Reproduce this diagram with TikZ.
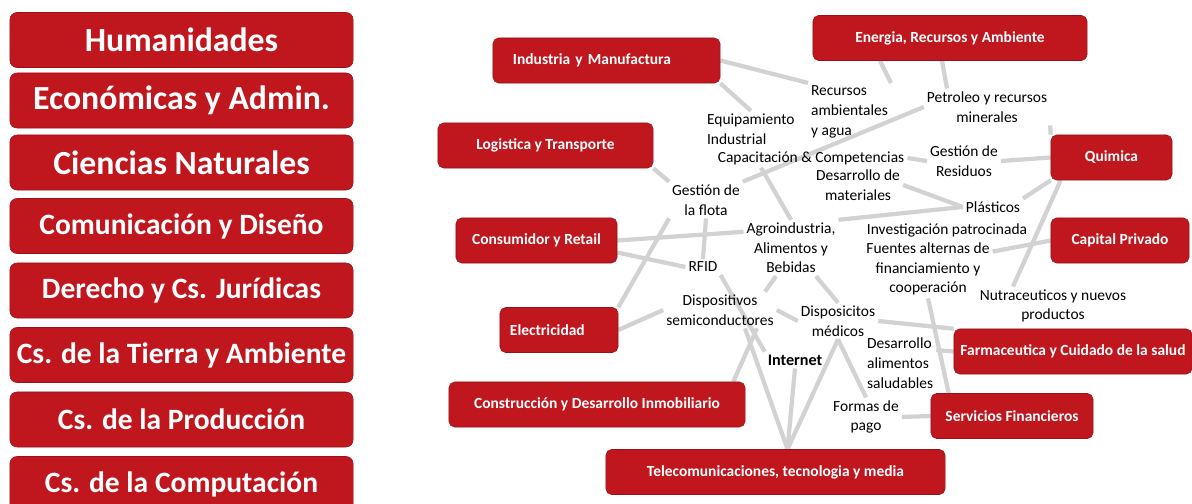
\documentclass[tikz,border=0pt]{standalone}
\usepackage{fontspec}
\setmainfont{Carlito}
\usetikzlibrary{calc,backgrounds}

\definecolor{boxred}{RGB}{192,22,30}
\definecolor{linkgray}{RGB}{210,210,210}

\tikzset{
  area/.style={fill=boxred, draw=boxred!80!black, rounded corners=5pt,
    minimum width=8.575cm, minimum height=1.375cm, text=white,
    font=\fontsize{21}{24}\selectfont\bfseries},
  bigarea/.style={area, font=\fontsize{24}{28}\selectfont\bfseries},
  sector/.style={fill=boxred, draw=boxred!80!black, rounded corners=4pt,
    minimum height=1.125cm, text=white, font=\fontsize{11}{13}\selectfont\bfseries},
  topic/.style={align=center, inner sep=2pt, font=\fontsize{11}{14}\selectfont},
  link/.style={draw=linkgray, line width=3pt}
}

\begin{document}
\begin{tikzpicture}[x=0.025cm, y=-0.025cm]
  \useasboundingbox (0,0) rectangle (1192,504);

  % areas
  \node[bigarea] (hum)  at (181.5,40)    {Humanidades};
  \node[bigarea] (eco)  at (181.5,100.5) {Económicas y Admin.};
  \node[bigarea] (nat)  at (181.5,162.5) {Ciencias Naturales};
  \node[area] (com)  at (181.5,226)   {Comunicación y Diseño};
  \node[area] (der)  at (181.5,290.5) {Derecho y Cs. Jurídicas};
  \node[area] (tie)  at (181.5,355)   {Cs. de la Tierra y Ambiente};
  \node[area] (pro)  at (181.5,419.5) {Cs. de la Producción};
  \node[area] (cpu)  at (181.5,484)   {Cs. de la Computación};

  % sectors
  \node[sector, minimum width=5.675cm, inner xsep=0.5cm, text width=4.675cm, align=left]
    (ind) at (606.5,60.5) {Industria y Manufactura};
  \node[sector, minimum width=6.85cm]  (ener)  at (950,38)      {Energia, Recursos y Ambiente};
  \node[sector, minimum width=5.375cm] (log)   at (545.5,145.5) {Logistica y Transporte};
  \node[sector, minimum width=3.025cm] (quim)  at (1111.5,157.5) {Quimica};
  \node[sector, minimum width=4.025cm] (cons)  at (536.5,240.5) {Consumidor y Retail};
  \node[sector, minimum width=3.45cm]  (cap)   at (1120,240.5)  {Capital Privado};
  \node[sector, minimum width=2.95cm, inner xsep=0.25cm, text width=2.45cm, align=left]
    (elec) at (559,330) {Electricidad};
  \node[sector, minimum width=5.95cm]  (farma) at (1073,351.5)  {Farmaceutica y Cuidado de la salud};
  \node[sector, minimum width=7.4cm]   (const) at (597,404.5)   {Construcción y Desarrollo Inmobiliario};
  \node[sector, minimum width=4.05cm]  (serv)  at (1012,416)    {Servicios Financieros};
  \node[sector, minimum width=8.475cm] (tele)  at (775.5,472)   {Telecomunicaciones, tecnologia y media};

  % topics
  \node[topic, align=left, anchor=west] (recur) at (808,112) {Recursos\\ambientales\\y agua};
  \node[topic, align=left, anchor=west] (equip) at (704,129) {Equipamiento\\Industrial};
  \node[topic] (capac)   at (811,158)  {Capacitación \& Competencias};
  \node[topic] (mater)   at (858,185)  {Desarrollo de\\materiales};
  \node[topic] (petro)   at (987,107)  {Petroleo y recursos\\minerales};
  \node[topic] (resid)   at (964,161)  {Gestión de\\Residuos};
  \node[topic] (plast)   at (993,207)  {Plásticos};
  \node[topic] (invest)  at (947,230)  {Investigación patrocinada};
  \node[topic] (fuentes) at (928,269)  {Fuentes alternas de\\financiamiento y\\cooperación};
  \node[topic] (nutra)   at (1053,306) {Nutraceuticos y nuevos\\productos};
  \node[topic, align=left, anchor=west] (salud) at (864,363) {Desarrollo\\alimentos\\saludables};
  \node[topic] (pago)    at (866,417)  {Formas de\\pago};
  \node[topic] (medic)   at (838,321)  {Disposicitos\\médicos};
  \node[topic] (semi)    at (720,310)  {Dispositivos\\semiconductores};
  \node[topic, font=\fontsize{11.5}{14}\selectfont\bfseries] (inet) at (795,360) {Internet};
  \node[topic] (rfid)    at (703,267)  {RFID};
  \node[topic] (agro)    at (791,248)  {Agroindustria,\\Alimentos y\\Bebidas};
  \node[topic] (flota)   at (706,200)  {Gestión de\\la flota};

  % links
  \begin{scope}[on background layer]
    \fill[white] (0,0) rectangle (1192,504);
    \draw[link] (ind.east) -- (recur.north west);
    \draw[link] (ind.south east) -- (equip.north);
    \draw[link] (log.south east) -- (flota.north west);
    \draw[link] ($(ener.south)+(-70,0)$) -- (recur.north east);
    \draw[link] ($(ener.south)+(-8,0)$) -- ($(petro.north)+(-40,0)$);
    \draw[link] (petro.south east) -- (quim.north west);
    \draw[link] (resid.east) -- (quim.west);
    \draw[link] (quim.south west) -- (plast.north east);
    \draw[link] ($(quim.south west)+(10,0)$) -- ($(nutra.north)+(-40,0)$);
    \draw[link] (cap.west) -- ($(fuentes.north east)+(0,12)$);
    \draw[link] (medic.east) -- (farma.north west);
    \draw[link] ($(salud.east)+(0,-13)$) -- (farma.west);
    \draw[link] (fuentes.south) -- ($(serv.north west)+(18,0)$);
    \draw[link] (pago.east) -- (serv.west);
    \draw[link] (cons.east) -- ($(agro.north west)+(0,12)$);
    \draw[link] ($(cons.east)+(0,12)$) -- (rfid.west);
    \draw[link] (elec.east) -- (semi.west);
    \draw[link] (elec.north east) -- (flota.south west);
    \draw[link] (flota.south) -- (rfid.north);
    \draw[link] ($(capac.south)+(-50,0)$) -- (agro.north);
    \draw[link] (flota.north east) -- (petro.west);
    \draw[link] (capac.east) -- (resid.west);
    \draw[link] (mater.east) -- (plast.west);
    \draw[link] (agro.north east) -- (plast.west);
    \draw[link] ($(agro.south)+(25,0)$) -- (medic.north);
    \draw[link] ($(agro.south)+(-15,0)$) -- ($(semi.north)+(45,0)$);
    \draw[link] ($(tele.north)+(12,0)$) -- ($(semi.south)+(25,0)$);
    \draw[link] ($(tele.north)+(12,0)$) -- (inet.south);
    \draw[link] ($(tele.north)+(12,0)$) -- (medic.south);
    \draw[link] (rfid.south east) -- (inet.north west);
    \draw[link] ($(const.north east)+(-12,0)$) -- ($(semi.south)+(37,0)$);
    \draw[link] (semi.east) -- (medic.west);
    \draw[link] (medic.south) -- (pago.north);
  \end{scope}
\end{tikzpicture}
\end{document}
